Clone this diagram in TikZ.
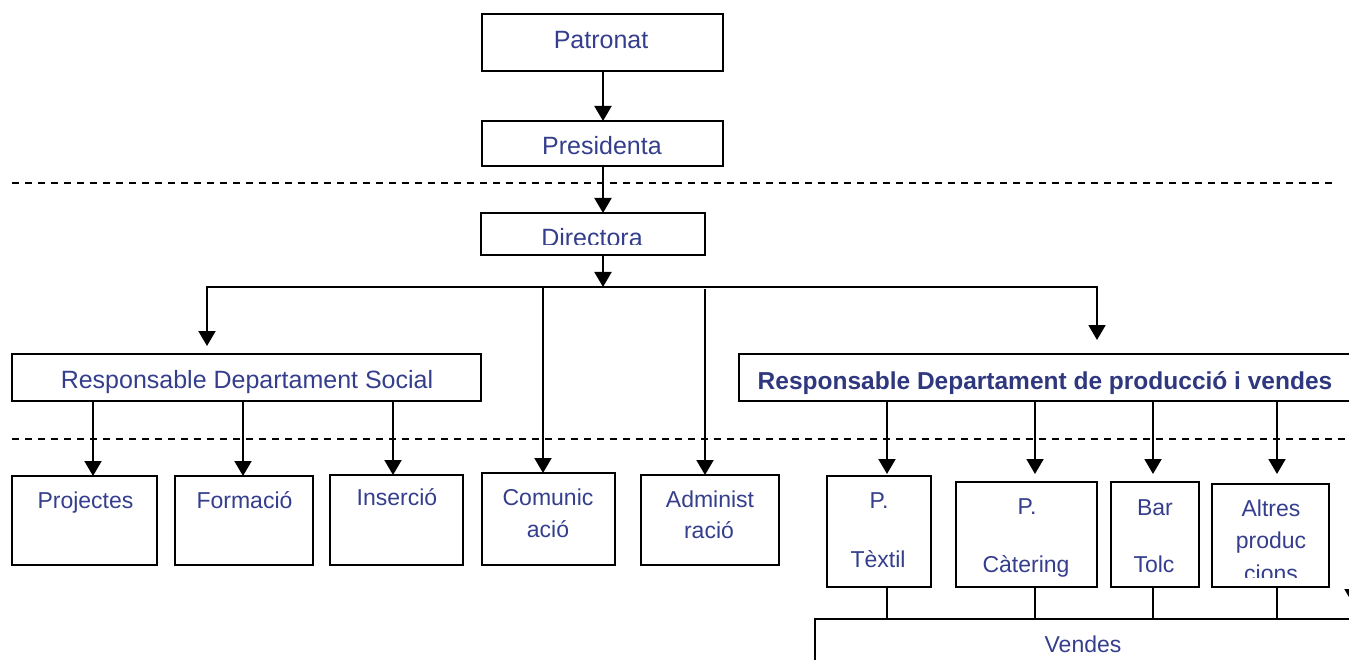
\documentclass[tikz,border=0pt]{standalone}
\usepackage{fontspec}
\setmainfont{Liberation Sans}
\usetikzlibrary{arrows.meta}
\definecolor{orgblue}{RGB}{52,62,140}
\tikzset{
  box/.style={draw, line width=2pt, inner sep=0pt, outer sep=0pt},
  txt/.style={anchor=base, text=orgblue, inner sep=0pt, font=\fontsize{25}{30}\selectfont},
  stxt/.style={anchor=base, text=orgblue, inner sep=0pt, font=\fontsize{23}{28}\selectfont},
  btxt/.style={anchor=base, text=orgblue!90!black, inner sep=0pt, font=\fontsize{24.5}{30}\selectfont\bfseries},
  arr/.style={line width=2pt, -{Triangle[width=17pt,length=15pt]}},
  con/.style={line width=2pt},
  sep/.style={line width=1.5pt, dash pattern=on 7pt off 6pt}
}
\begin{document}
\begin{tikzpicture}[x=1pt,y=-1pt]
\useasboundingbox (0,0) rectangle (1349,660);
\clip (0,0) rectangle (1349,660);

\draw[sep] (12,183) -- (1337,183);
\draw[sep] (12,439) -- (1349,439);

\node[box, minimum width=241, minimum height=57] (pat) at (602.5,42.5) {};
\node[box, minimum width=241, minimum height=45] (pres) at (602.5,143.5) {};
\node[box, minimum width=224, minimum height=42] (dir) at (593,234) {};
\node[box, minimum width=469, minimum height=47] (soc) at (246.5,377.5) {};
\node[box, minimum width=631, minimum height=47] (prod) at (1054.5,377.5) {};

\node[box, minimum width=145, minimum height=89] (proj) at (84.5,520.5) {};
\node[box, minimum width=138, minimum height=89] (form) at (244,520.5) {};
\node[box, minimum width=133, minimum height=90] (ins) at (396.5,520) {};
\node[box, minimum width=133, minimum height=92] (comu) at (548.5,519) {};
\node[box, minimum width=138, minimum height=90] (adm) at (710,520) {};
\node[box, minimum width=104, minimum height=111] (tex) at (879,531.5) {};
\node[box, minimum width=141, minimum height=105] (cat) at (1026.5,534.5) {};
\node[box, minimum width=88, minimum height=105] (bar) at (1155,534.5) {};
\node[box, minimum width=117, minimum height=103] (alt) at (1270.5,535.5) {};
\node[box, minimum width=555, minimum height=61] (vend) at (1092.5,649.5) {};

\node[txt] (pat-t) at (601,49) {Patronat};
\node[txt] (pres-t) at (602,155) {Presidenta};
\begin{scope}
\clip (481,213) rectangle (705,245);
\node[txt] (dir-t) at (592,247) {Directora};
\end{scope}
\node[txt] (soc-t) at (247,388) {Responsable Departament Social};
\node[btxt] (prod-t) at (1045,389) {Responsable Departament de producció i vendes};

\node[stxt] (proj-t) at (85.5,508) {Projectes};
\node[stxt] (form-t) at (244.5,508) {Formació};
\node[stxt] (ins-t) at (397,505) {Inserció};
\node[stxt] (comu-t1) at (548,505) {Comunic};
\node[stxt] (comu-t2) at (548,537) {ació};
\node[stxt] (adm-t1) at (710,507) {Administ};
\node[stxt] (adm-t2) at (709,538) {ració};
\node[stxt] (tex-t1) at (879,508) {P.};
\node[stxt] (tex-t2) at (878,567) {Tèxtil};
\node[stxt] (cat-t1) at (1027,514) {P.};
\node[stxt] (bar-t1) at (1155,515) {Bar};
\node[stxt] (bar-t2) at (1154,572) {Tolc};
\node[stxt] (alt-t1) at (1271,516) {Altres};
\node[stxt] (alt-t2) at (1271,548) {produc};
\begin{scope}
\clip (956,482) rectangle (1329,577);
\node[stxt] (cat-t2) at (1026,572) {Càtering};
\node[stxt] (alt-t3) at (1271,581) {cions};
\end{scope}
\node[stxt] (vend-t) at (1083,652) {Vendes};

\coordinate (br) at (603,287);
\coordinate (socin) at (207,346);
\coordinate (prodin) at (1097,340);
\coordinate (jc) at (543,287);
\coordinate (ja) at (705,289);
\coordinate (k1) at (93,0);
\coordinate (k2) at (243,0);
\coordinate (k3) at (393,0);
\coordinate (p1) at (887,0);
\coordinate (p2) at (1035,0);
\coordinate (p3) at (1153,0);
\coordinate (p4) at (1277,0);
\coordinate (ptip) at (0,474);
\coordinate (rx1) at (1353,560);
\coordinate (rx2) at (1353,604);

\draw[arr] (pat.south -| br) -- (pres.north -| br);
\draw[arr] (pres.south -| br) -- (dir.north -| br);
\draw[arr] (dir.south -| br) -- (br);
\draw[arr] (br) -| (socin);
\draw[arr] (br) -| (prodin);
\draw[arr] (jc) -- (jc |- comu.north);
\draw[arr] (ja) -- (ja |- adm.north);

\draw[arr] (soc.south -| k1) -- (proj.north -| k1);
\draw[arr] (soc.south -| k2) -- (form.north -| k2);
\draw[arr] (soc.south -| k3) -- (ins.north -| k3);

\draw[arr] (prod.south -| p1) -- (p1 |- ptip);
\draw[arr] (prod.south -| p2) -- (p2 |- ptip);
\draw[arr] (prod.south -| p3) -- (p3 |- ptip);
\draw[arr] (prod.south -| p4) -- (p4 |- ptip);

\draw[con] (tex.south -| p1) -- (vend.north -| p1);
\draw[con] (cat.south -| p2) -- (vend.north -| p2);
\draw[con] (bar.south -| p3) -- (vend.north -| p3);
\draw[con] (alt.south -| p4) -- (vend.north -| p4);

\draw[arr] (rx1) -- (rx2);
\end{tikzpicture}
\end{document}
